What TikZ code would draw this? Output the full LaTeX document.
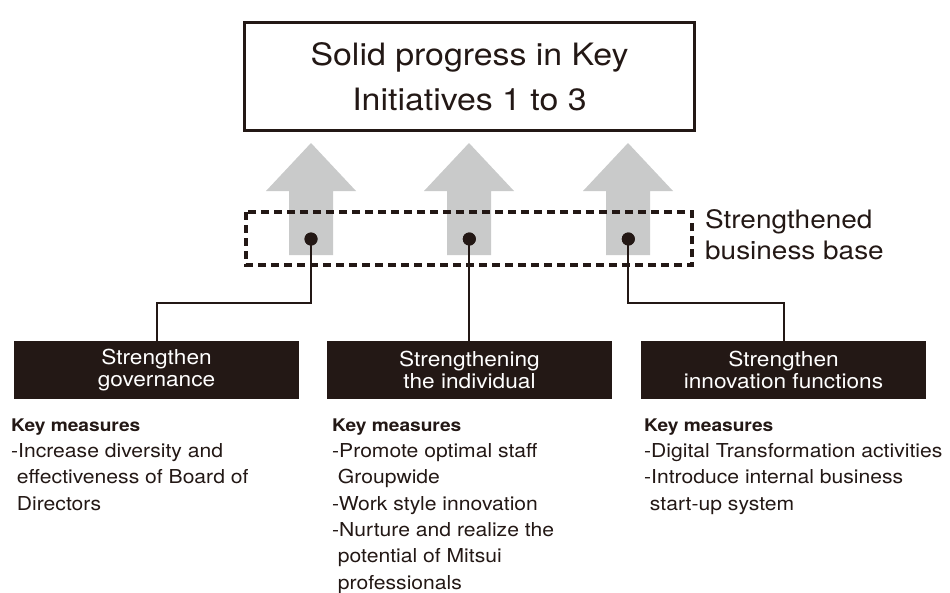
\documentclass[tikz,border=0pt]{standalone}
\usepackage{fontspec}
\setmainfont[FakeStretch=1.1]{TeX Gyre Heros}
\usepackage{tikz}
\usetikzlibrary{positioning}
\definecolor{ink}{HTML}{231815}
\definecolor{arrowgray}{HTML}{C9CACA}
\newcommand{\goalfont}{\fontsize{30.8}{45}\selectfont}
\newcommand{\basefont}{\fontsize{25.4}{31}\selectfont}
\newcommand{\labelfont}{\fontsize{20.6}{22}\selectfont}
\newcommand{\listfont}{\fontsize{19.2}{26.3}\selectfont}
\newcommand{\keyhead}{{\bfseries\fontsize{17.4}{26.3}\selectfont Key measures}}
\newcommand{\ind}{\hspace*{0.3em}}

\begin{document}
\begin{tikzpicture}[x=1pt,y=-1pt,
  goal/.style={draw=ink,line width=2.6pt,minimum width=450pt,minimum height=108pt,
    align=center,font=\goalfont,text=ink},
  measure/.style={fill=ink,text=white,minimum width=285pt,minimum height=58pt,
    inner sep=0pt,align=center,font=\labelfont},
  dot/.style={circle,fill=ink,inner sep=0pt,minimum size=13pt},
  keylist/.style={anchor=north west,inner sep=0pt,align=left,font=\listfont,text=ink},
  link/.style={draw=ink,line width=2pt}]
  \useasboundingbox (0,0) rectangle (950,592);

  \node[goal] (goal) at (469.5,76.5) {Solid progress in Key\\Initiatives 1 to 3};

  % grey arrows up to the goal
  \foreach \x in {311,469,628}
    \fill[arrowgray] ({\x-22},255) -- ({\x-22},191) -- ({\x-45},191) -- (\x,143)
      -- ({\x+45},191) -- ({\x+22},191) -- ({\x+22},255) -- cycle;

  % business base
  \draw[ink,line width=3.3pt,dash pattern=on 8pt off 5pt] (246,212) rectangle (692,265);
  \node[anchor=north west,inner sep=0pt,align=left,font=\basefont,text=ink] (base)
    at (705,209) {Strengthened\\business base};

  \node[measure] (gov) at (156.5,370) {Strengthen\\governance};
  \node[measure] (indiv) at (469.5,370) {Strengthening\\the individual};
  \node[measure] (innov) at (783.5,370) {Strengthen\\innovation functions};

  \node[dot] (d1) at (311,239) {};
  \node[dot] (d2) at (469.3,239) {};
  \node[dot] (d3) at (628.3,239) {};

  \path[link]
    (d1.center) -- ++(0,64) -| (gov.north)
    (d2.center) -- (indiv.north -| d2)
    (d3.center) -- ++(0,64) -| (innov.north);
  \node[dot] at (d1) {};
  \node[dot] at (d2) {};
  \node[dot] at (d3) {};

  \node[keylist] (govlist) at (11,418.5) {\keyhead\\
    -Increase diversity and\\
    \ind effectiveness of Board of\\
    \ind Directors};
  \node[keylist] (indivlist) at (332,418.5) {\keyhead\\
    -Promote optimal staff\\
    \ind Groupwide\\
    -Work style innovation\\
    -Nurture and realize the\\
    \ind potential of Mitsui\\
    \ind professionals};
  \node[keylist] (innovlist) at (644,418.5) {\keyhead\\
    -Digital Transformation activities\\
    -Introduce internal business\\
    \ind start-up system};
\end{tikzpicture}
\end{document}
